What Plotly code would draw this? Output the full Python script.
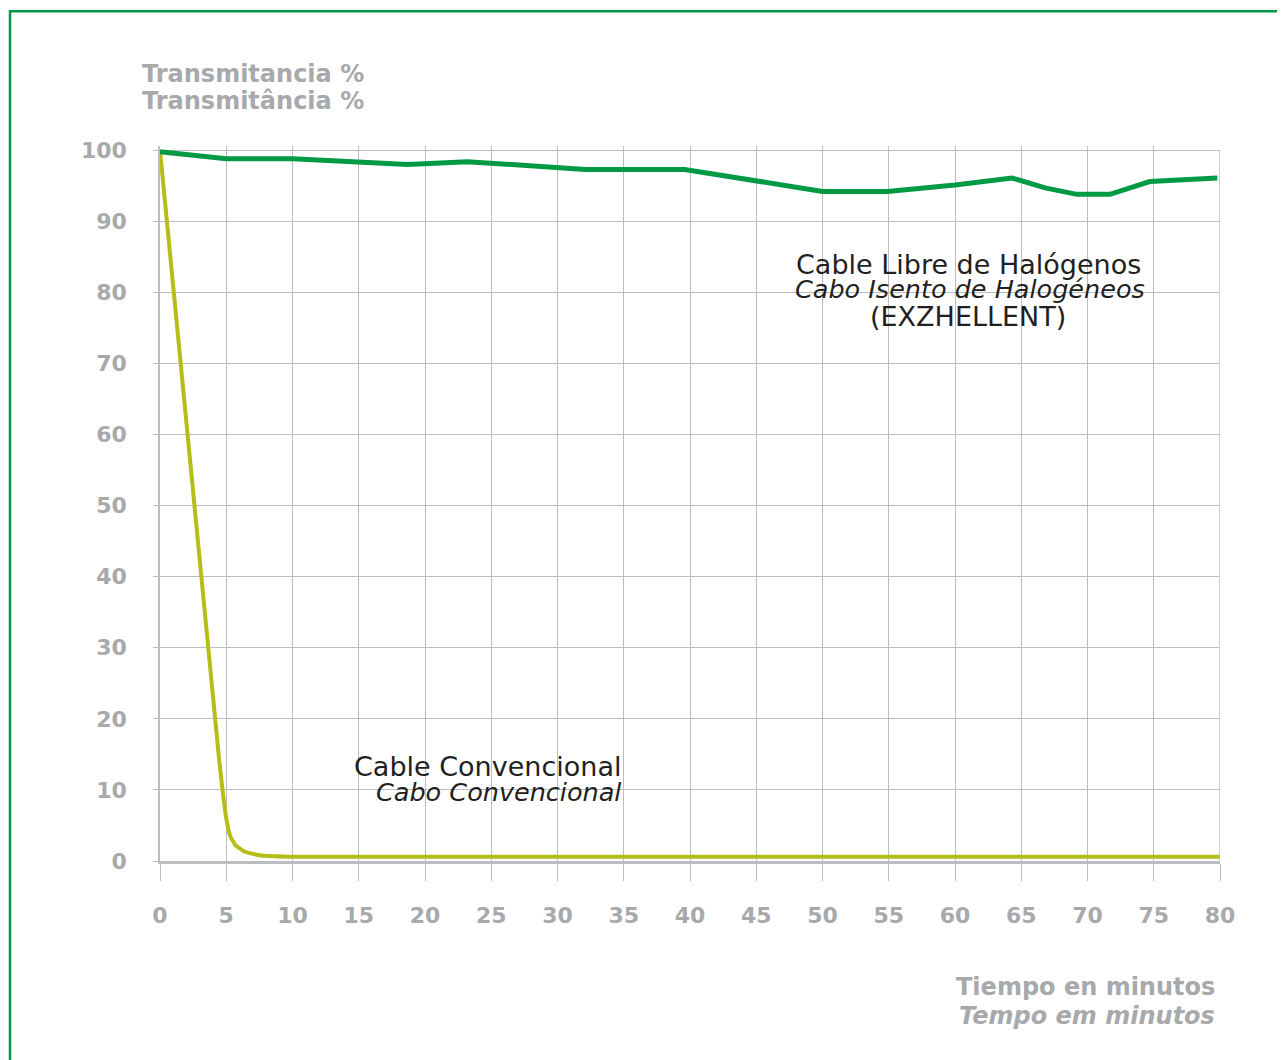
import plotly.graph_objects as go

# Data
time_libre = [0, 5, 10, 18.7, 23.2, 32.1, 39.6, 50, 54.9, 60, 64.3, 66.8, 69.2, 71.7, 74.7, 79.8]
trans_libre = [99.8, 98.8, 98.8, 98.0, 98.4, 97.3, 97.3, 94.2, 94.2, 95.1, 96.1, 94.7, 93.8, 93.8, 95.6, 96.1]

time_conv = [0, 4.45, 5.0, 5.3, 5.7, 6.4, 7.5, 9.8, 80]
trans_conv = [100, 14.5, 6.0, 3.5, 2.2, 1.3, 0.8, 0.6, 0.6]

x_ticks = [0, 5, 10, 15, 20, 25, 30, 35, 40, 45, 50, 55, 60, 65, 70, 75, 80]
y_ticks = [0, 10, 20, 30, 40, 50, 60, 70, 80, 90, 100]

GRAY = "#a7a9ac"
GRID = "#bcbdc0"
GREEN = "#009a44"
YELLOW = "#b5bd17"
BLACK = "#231f20"

OFF = 8  # page body margin
W, H = 1285, 1060
# target plot area in screen pixels: x 160..1220, y(100)=150, y(0)=861
L = 160 - OFF
pw = 1060
R = W - L - pw
B = H - (861 - OFF)
ph_100 = 861 - 150
ph = ph_100 * 100.6 / 100
T = H - B - ph

def px(xp):
    return (xp - OFF - L) / pw

def py(yp):
    return (H - B - (yp - OFF)) / ph

fig = go.Figure()
fig.add_trace(go.Scatter(x=time_conv, y=trans_conv, mode="lines",
                         line=dict(color=YELLOW, width=4, shape="spline", smoothing=0.3),
                         hoverinfo="skip", showlegend=False))
fig.add_trace(go.Scatter(x=time_libre, y=trans_libre, mode="lines",
                         line=dict(color=GREEN, width=5),
                         hoverinfo="skip", showlegend=False))

tick_font = dict(family="DejaVu Sans", size=22, color=GRAY, weight="bold")

fig.update_layout(
    width=W, height=H,
    margin=dict(l=L, r=R, t=T, b=B),
    paper_bgcolor="white", plot_bgcolor="white",
    xaxis=dict(range=[0, 80], tickvals=x_ticks, showgrid=True, gridcolor=GRID, gridwidth=1.2,
               showline=True, linecolor=GRID, linewidth=3, mirror=False,
               ticks="outside", ticklen=17, tickcolor=GRID, tickwidth=1.2,
               ticklabelstandoff=16, tickfont=tick_font, zeroline=False, fixedrange=True),
    yaxis=dict(range=[0, 100.6], tickvals=y_ticks, showgrid=True, gridcolor=GRID, gridwidth=1.2,
               showline=True, linecolor=GRID, linewidth=1.5,
               ticks="outside", ticklen=5, tickcolor=GRID, tickwidth=1.2,
               ticklabelstandoff=22, tickfont=tick_font, zeroline=False, fixedrange=True),
    shapes=[
        dict(type="rect", xref="paper", yref="paper", x0=px(10), x1=px(1320), y0=py(11), y1=py(1090),
             line=dict(color=GREEN, width=2.5), fillcolor="rgba(0,0,0,0)", layer="below"),
        dict(type="line", xref="x", yref="paper", x0=80, x1=80, y0=0, y1=py(150),
             line=dict(color=GRID, width=1.5)),
    ],
)

ann = []
def add(text, xp, yp, xanchor, size, color, weight="normal", family="DejaVu Sans"):
    ann.append(dict(text=text, x=px(xp), y=py(yp), xref="paper", yref="paper",
                    xanchor=xanchor, yanchor="middle", showarrow=False,
                    font=dict(family=family, size=size, color=color, weight=weight)))

add("Transmitancia %", 366, 74, "right", 24, GRAY, "bold")
add("Transmitância %", 366, 101, "right", 24, GRAY, "bold")
add("Tiempo en minutos", 1217, 987, "right", 24, GRAY, "bold")
add("<i>Tempo em minutos</i>", 1217, 1016, "right", 24, GRAY, "bold")

add("Cable Libre de Halógenos", 968, 264, "center", 27, BLACK)
add("<i>Cabo Isento de Halogéneos</i>", 970, 289, "center", 25.5, BLACK)
add("(EXZHELLENT)", 968, 316, "center", 27, BLACK)
add("Cable Convencional", 623, 766, "right", 27, BLACK)
add("<i>Cabo Convencional</i>", 623, 792, "right", 25.5, BLACK)

fig.update_layout(annotations=ann)
fig.write_html("out.html")
